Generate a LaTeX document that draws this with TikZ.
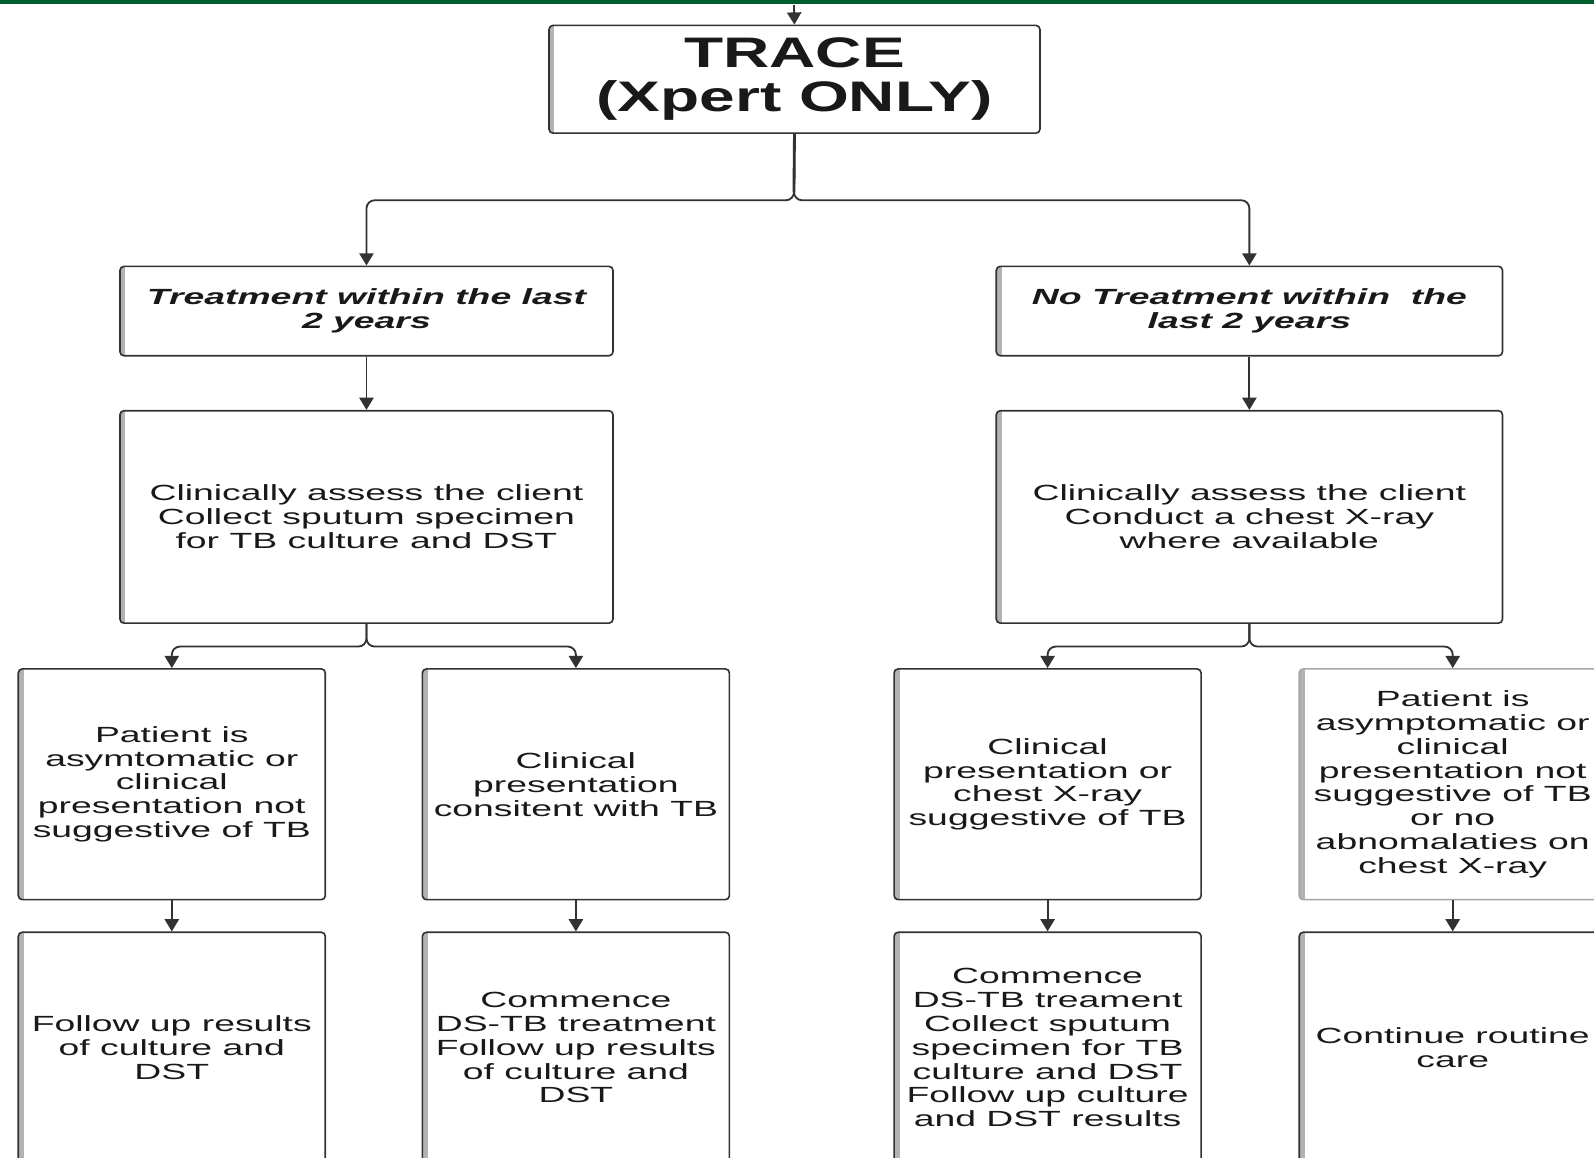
\documentclass[tikz,border=0pt]{standalone}
\usepackage{fontspec}
\setmainfont{Liberation Sans}[FakeStretch=1.7]
\newfontfamily\titlefont{Liberation Sans}[FakeStretch=1.5]
\usetikzlibrary{arrows.meta}
\definecolor{topbar}{RGB}{0,94,44}
\definecolor{edge}{RGB}{50,50,50}
\tikzset{
  arr/.style={draw=edge, line width=0.9pt, rounded corners=4pt, -{Triangle[width=7pt,length=6pt]}},
  box/.style={draw=edge, line width=0.8pt, rounded corners=2pt, fill=white, align=center,
    inner sep=0pt, text=black!90, font=\fontsize{10.8}{11.75}\selectfont,
    path picture={\draw[black!30, line width=2.6pt] ([xshift=1.4pt]path picture bounding box.north west) -- ([xshift=1.4pt]path picture bounding box.south west);}},
  wide/.style={box, minimum width=242.5pt},
  narrow/.style={box, minimum width=151pt, minimum height=113.5pt},
}
\begin{document}
\begin{tikzpicture}[x=0.5pt, y=-0.5pt]
        \clip (0,0) rectangle (1568,1139);
        \useasboundingbox (0,0) rectangle (1568,1139);
        \fill [white] (0,0) rectangle (1568,1139);
        \fill [topbar] (0,0) rectangle (1568,4);
        \coordinate (entry) at (781,5);
        \node [box, minimum width=241.5pt, minimum height=53pt, font=\titlefont\bfseries\fontsize{21}{21.5}\selectfont] (trace) at (781.5,78) {TRACE\\(Xpert ONLY)};
        \node [wide, minimum height=44pt, font=\bfseries\itshape\fontsize{10.8}{11.75}\selectfont] (treat) at (360.5,306) {Treatment within the last\\2 years};
        \node [wide, minimum width=249pt, minimum height=44pt, font=\bfseries\itshape\fontsize{10.8}{11.75}\selectfont] (notreat) at (1229,306) {No Treatment within~ the\\last 2 years};
        \node [wide, minimum height=104.5pt] (assessl) at (360.5,508.5) {Clinically assess the client\\Collect sputum specimen\\for TB culture and DST};
        \node [wide, minimum width=249pt, minimum height=104.5pt] (assessr) at (1229,508.5) {Clinically assess the client\\Conduct a chest X-ray\\where available};
        \node [narrow] (asymp) at (169,771.5) {Patient is\\asymtomatic or\\clinical\\presentation not\\suggestive of TB};
        \node [narrow] (consist) at (566.5,771.5) {Clinical\\presentation\\consitent with TB};
        \node [narrow] (suggest) at (1030.5,771.5) {Clinical\\presentation or\\chest X-ray\\suggestive of TB};
        \node [narrow, draw=black!35] (noabn) at (1429,771.5) {Patient is\\asymptomatic or\\clinical\\presentation not\\suggestive of TB\\or no\\abnomalaties on\\chest X-ray};
        \node [narrow] (follow) at (169,1030.5) {Follow up results\\of culture and\\DST};
        \node [narrow] (commence) at (566.5,1030.5) {Commence\\DS-TB treatment\\Follow up results\\of culture and\\DST};
        \node [narrow] (collect) at (1030.5,1030.5) {Commence\\DS-TB treament\\Collect sputum\\specimen for TB\\culture and DST\\Follow up culture\\and DST results};
        \node [narrow] (routine) at (1429,1030.5) {Continue routine\\care};
        \coordinate (forktop) at (781,197);
        \coordinate (forkl) at (360.5,636);
        \coordinate (forkr) at (1229,636);
        \draw [arr] (entry) -- (trace.north);
        \draw [arr] (trace.south) -- (forktop) -| (treat.north);
        \draw [arr] (trace.south) -- (forktop) -| (notreat.north);
        \draw [edge, line width=1.4pt] (trace.south) -- ([yshift=4pt]forktop);
        \draw [arr] (treat) -- (assessl);
        \draw [arr] (notreat) -- (assessr);
        \draw [arr] (assessl.south) -- (forkl) -| (asymp.north);
        \draw [arr] (assessl.south) -- (forkl) -| (consist.north);
        \draw [arr] (assessr.south) -- (forkr) -| (suggest.north);
        \draw [arr] (assessr.south) -- (forkr) -| (noabn.north);
        \draw [arr] (asymp) -- (follow);
        \draw [arr] (consist) -- (commence);
        \draw [arr] (suggest) -- (collect);
        \draw [arr] (noabn) -- (routine);
      \end{tikzpicture}
\end{document}
